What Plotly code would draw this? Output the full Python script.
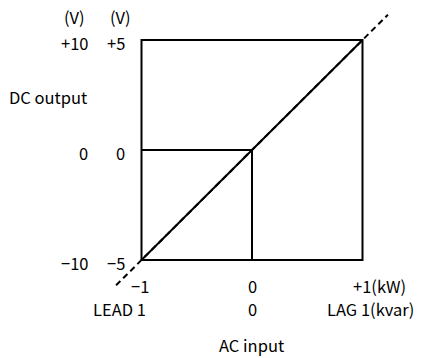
import plotly.graph_objects as go

# ---- data ----
ac_range = [-1, 1]            # AC input (normalized)
dc_range = [-5, 5]            # DC output (V, 5V scale)
transfer_x = [-1, 0, 1]
transfer_y = [-5, 0, 5]
ext_x = [-1.23, 1.23]         # dashed extension of characteristic
ext_y = [-6.15, 6.15]
x_ticks = [-1, 0, 1]
x_labels_kw = ["\u22121", "0", "+1(kW)"]
x_labels_kvar = ["LEAD 1", "0", "LAG 1(kvar)"]
y_ticks = [5, 0, -5]
y_labels_10 = ["+10", "0", "\u221210"]
y_labels_5 = ["+5", "0", "\u22125"]

W, H = 424, 358
CX, CY = 252, 150      # pixel of origin
SX, SY = 110.5, 22.0   # px per unit

def px2x(px):
    return (px - CX) / SX

def px2y(py):
    return (CY - py) / SY

FONT = dict(family="Noto Sans CJK JP, sans-serif", size=16.5, color="black")
LW = 2

fig = go.Figure()

# dashed extension
fig.add_trace(go.Scatter(x=ext_x, y=ext_y, mode="lines",
                         line=dict(color="black", width=LW, dash="6px,4px"),
                         hoverinfo="skip", showlegend=False))
# characteristic line
fig.add_trace(go.Scatter(x=[transfer_x[0], transfer_x[-1]], y=[transfer_y[0], transfer_y[-1]],
                         mode="lines", line=dict(color="black", width=LW),
                         hoverinfo="skip", showlegend=False))
# zero lines inside box (step)
fig.add_trace(go.Scatter(x=[ac_range[0], 0, 0], y=[0, 0, dc_range[0]], mode="lines",
                         line=dict(color="black", width=LW),
                         hoverinfo="skip", showlegend=False))
# box
fig.add_shape(type="rect", x0=ac_range[0], x1=ac_range[1], y0=dc_range[0], y1=dc_range[1],
              line=dict(color="black", width=LW), xref="x", yref="y")

ann = []
def T(text, x, y, xa="center", ya="middle"):
    ann.append(dict(text=text, x=x, y=y, xref="x", yref="y", xanchor=xa, yanchor=ya,
                    showarrow=False, font=FONT))

# y labels
for v, t10, t5 in zip(y_ticks, y_labels_10, y_labels_5):
    T(t10, px2x(90), v - 0.12, xa="right")
    T(t5, px2x(127), v - 0.12, xa="right")
T("(V)", px2x(74), px2y(17))
T("(V)", px2x(120), px2y(17))
T("DC output", px2x(7), px2y(97), xa="left")

# x labels
row1, row2 = px2y(286), px2y(309)
T(x_labels_kw[0], px2x(140), row1)
T(x_labels_kw[1], x_ticks[1], row1)
T(x_labels_kw[2], px2x(351), row1, xa="left")
T(x_labels_kvar[0], px2x(148), row2, xa="right")
T(x_labels_kvar[1], x_ticks[1], row2)
T(x_labels_kvar[2], px2x(416), row2, xa="right")
T("AC input", px2x(251), px2y(345))

fig.update_layout(
    width=W, height=H, margin=dict(l=0, r=0, t=0, b=0),
    paper_bgcolor="white", plot_bgcolor="white",
    xaxis=dict(range=[px2x(0), px2x(W)], visible=False, fixedrange=True),
    yaxis=dict(range=[px2y(H), px2y(0)], visible=False, fixedrange=True),
    annotations=ann, showlegend=False,
)
fig.write_html("out.html", config={"displayModeBar": False},
               post_script="document.body.style.margin='0';document.body.style.overflow='hidden';")
